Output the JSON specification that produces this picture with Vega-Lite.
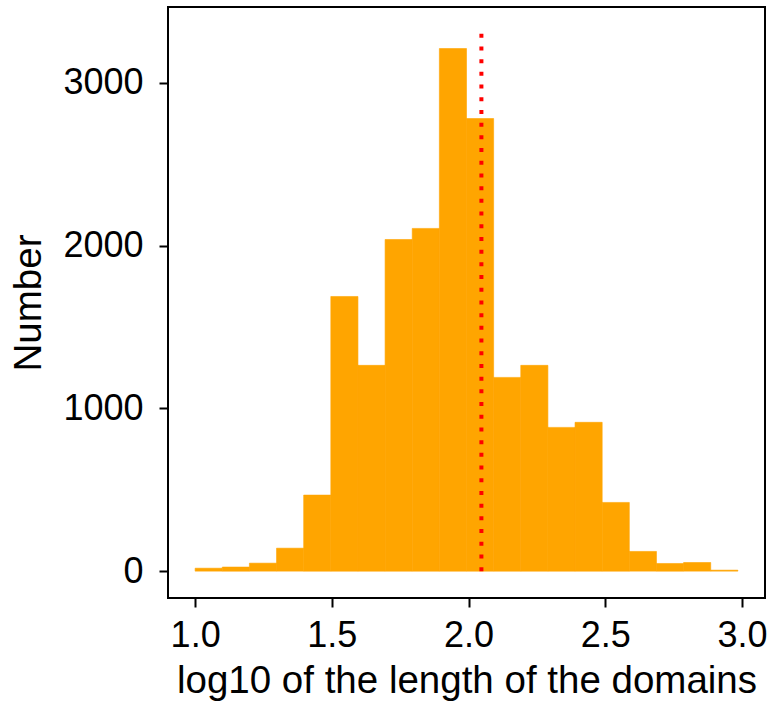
{
  "$schema": "https://vega.github.io/schema/vega-lite/v6.json",
  "autosize": "none",
  "width": 597,
  "height": 591,
  "padding": {"left": 168, "top": 7, "right": 6, "bottom": 111},
  "background": "white",
  "config": {
    "view": {"stroke": "black", "strokeWidth": 2},
    "font": "Liberation Sans",
    "axis": {
      "labelFont": "Liberation Sans",
      "titleFont": "Liberation Sans",
      "labelColor": "black",
      "titleColor": "black",
      "labelFontSize": 36,
      "titleFontSize": 38.5,
      "titleFontWeight": "normal",
      "tickColor": "black",
      "tickSize": 9,
      "tickWidth": 2,
      "domain": false,
      "grid": false
    }
  },
  "datasets": {
    "bins": [
      {"start": 1.0, "end": 1.09925, "count": 18},
      {"start": 1.09925, "end": 1.1985, "count": 25},
      {"start": 1.1985, "end": 1.29775, "count": 49},
      {"start": 1.29775, "end": 1.397, "count": 141},
      {"start": 1.397, "end": 1.49625, "count": 467},
      {"start": 1.49625, "end": 1.5955, "count": 1687},
      {"start": 1.5955, "end": 1.69475, "count": 1264},
      {"start": 1.69475, "end": 1.794, "count": 2037},
      {"start": 1.794, "end": 1.89325, "count": 2105},
      {"start": 1.89325, "end": 1.9925, "count": 3210},
      {"start": 1.9925, "end": 2.09175, "count": 2780},
      {"start": 2.09175, "end": 2.191, "count": 1190},
      {"start": 2.191, "end": 2.29025, "count": 1264},
      {"start": 2.29025, "end": 2.3895, "count": 883},
      {"start": 2.3895, "end": 2.48875, "count": 914},
      {"start": 2.48875, "end": 2.588, "count": 422},
      {"start": 2.588, "end": 2.68725, "count": 121},
      {"start": 2.68725, "end": 2.7865, "count": 47},
      {"start": 2.7865, "end": 2.88575, "count": 53},
      {"start": 2.88575, "end": 2.985, "count": 6}
    ],
    "median": [
      {"value": 2.047, "low": 0, "high": 3300}
    ]
  },
  "layer": [
    {
      "data": {"name": "bins"},
      "mark": {"type": "bar", "color": "#FFA500", "stroke": "#FFA500", "strokeWidth": 0.6},
      "encoding": {
        "x": {
          "field": "start", "type": "quantitative",
          "scale": {"domain": [0.90075, 3.08425], "nice": false, "zero": false},
          "axis": {"values": [1.0, 1.5, 2.0, 2.5, 3.0], "format": ".1f", "labelPadding": 11, "titlePadding": 9},
          "title": "log10 of the length of the domains"
        },
        "x2": {"field": "end"},
        "y": {
          "field": "count", "type": "quantitative",
          "scale": {"domain": [-165, 3465], "nice": false, "zero": false},
          "axis": {"values": [0, 1000, 2000, 3000], "format": "d", "labelPadding": 16, "titlePadding": 14},
          "title": "Number"
        },
        "y2": {"datum": 0}
      }
    },
    {
      "data": {"name": "median"},
      "mark": {"type": "rule", "color": "red", "strokeWidth": 4, "strokeDash": [4, 8.7], "strokeCap": "butt"},
      "encoding": {
        "x": {"field": "value", "type": "quantitative"},
        "y": {"field": "low", "type": "quantitative"},
        "y2": {"field": "high"}
      }
    }
  ]
}
